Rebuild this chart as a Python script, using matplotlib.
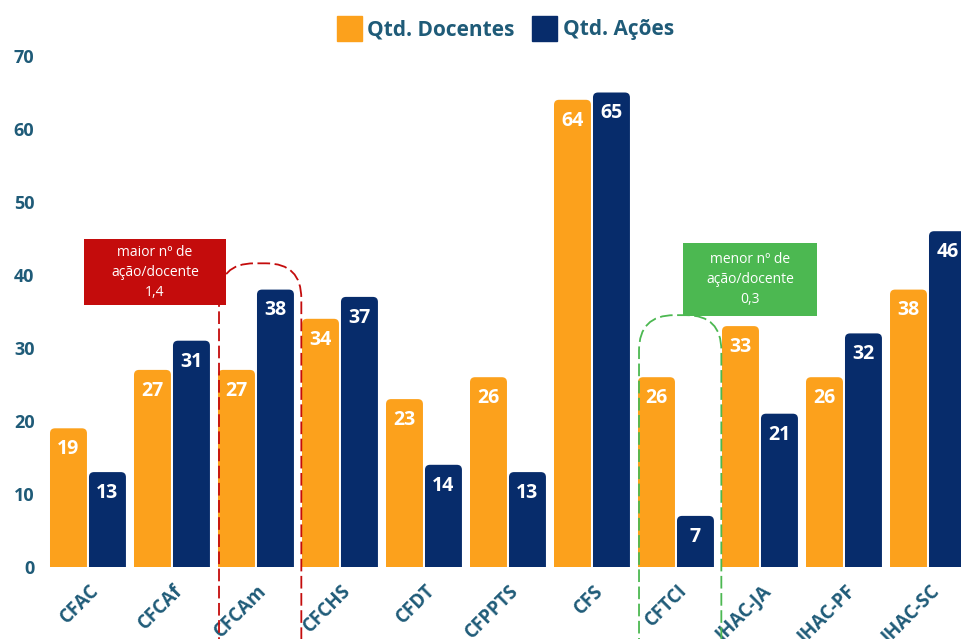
import matplotlib.pyplot as plt
import numpy as np
from matplotlib.patches import FancyBboxPatch
from matplotlib.lines import Line2D
import matplotlib.transforms as mtransforms

plt.rcParams['font.family'] = ['Open Sans', 'DejaVu Sans']

centros = ['CFAC', 'CFCAf', 'CFCAm', 'CFCHS', 'CFDT', 'CFPPTS', 'CFS', 'CFTCI',
           'IHAC-JA', 'IHAC-PF', 'IHAC-SC']
docentes = [19, 27, 27, 34, 23, 26, 64, 26, 33, 26, 38]
acoes = [13, 31, 38, 37, 14, 13, 65, 7, 21, 32, 46]

laranja = '#FCA11C'
azul = '#072C6B'
texto = '#1f5b78'
vermelho = '#C40C0C'
verde = '#4CB851'

fig = plt.figure(figsize=(9.62, 6.39), dpi=100)
ax = fig.add_axes([40 / 962, 72 / 639, 1 - 40 / 962, 511 / 639])

x = np.arange(len(centros))
w = 0.44
aspect = 84 / 7.3  # razão px por unidade x / px por unidade y

def arredondar(bars, cor):
    for b in bars:
        bx, by = b.get_xy()
        p = FancyBboxPatch((bx, -3), b.get_width(), b.get_height() + 3,
                           boxstyle='round,pad=0,rounding_size=0.06',
                           mutation_aspect=aspect, fc=cor, ec='none', zorder=2)
        ax.add_patch(p)
        b.set_visible(False)

b1 = ax.bar(x - 0.232, docentes, w, color=laranja)
b2 = ax.bar(x + 0.232, acoes, w, color=azul)
arredondar(b1, laranja)
arredondar(b2, azul)

for bars, vals in [(b1, docentes), (b2, acoes)]:
    for b, v in zip(bars, vals):
        ax.annotate(str(v), (b.get_x() + b.get_width() / 2, v), xytext=(0, -15),
                    textcoords='offset points', ha='center', va='center',
                    color='white', fontsize=14, fontweight='bold', zorder=5)

ax.set_xlim(-0.571, 10.405)
ax.set_ylim(0, 70)
ax.set_yticks(range(0, 71, 10))
for s in ax.spines.values():
    s.set_visible(False)
ax.tick_params(axis='both', length=0, labelsize=13, labelcolor=texto)
ax.tick_params(axis='y', pad=4)
ax.set_xticks(x)
ax.set_xticklabels(centros, rotation=45, ha='right', rotation_mode='anchor',
                   fontweight='bold', fontsize=13.5)
ax.tick_params(axis='x', pad=10)
off = mtransforms.ScaledTranslation(1 / 100, 0, fig.dpi_scale_trans)
for lab in ax.get_xticklabels():
    lab.set_transform(lab.get_transform() + off)
for lab in ax.get_yticklabels():
    lab.set_fontweight('bold')

# destaque maior / menor razão ações/docente
razao = np.array(acoes) / np.array(docentes)
imax = int(np.argmax(razao))
imin = int(np.argmin(razao))

for i, cor, topo, caixa, txt in [
        (imax, vermelho, 41.6, (imax - 2.048, 35.9, 1.69, 9.0), 'maior nº de'),
        (imin, verde, 34.5, (imin + 0.083, 34.4, 1.6, 10.0), 'menor nº de')]:
    contorno = FancyBboxPatch((i + 0.05 - 0.49, -20), 0.98, topo + 20,
                              boxstyle='round,pad=0,rounding_size=0.42',
                              mutation_aspect=aspect, fc='none', ec=cor, lw=1.3,
                              ls=(0, (7, 2.5)), zorder=6, clip_on=False)
    ax.add_patch(contorno)
    bx, by, bw, bh = caixa
    ax.add_patch(FancyBboxPatch((bx, by), bw, bh, boxstyle='square,pad=0',
                                fc=cor, ec='none', zorder=7, clip_on=False))
    valor = f'{razao[i]:.1f}'.replace('.', ',')
    ax.text(bx + bw / 2, by + bh / 2, f'{txt}\nação/docente\n{valor}',
            ha='center', va='center', color='white', fontsize=10,
            linespacing=1.45, zorder=8)

handles = [Line2D([], [], marker='s', ls='none', markersize=18, color=laranja),
           Line2D([], [], marker='s', ls='none', markersize=18, color=azul)]
leg = fig.legend(handles, ['Qtd. Docentes', 'Qtd. Ações'], loc='center',
                 bbox_to_anchor=(505 / 962, 1 - 30 / 639), ncol=2, frameon=False,
                 handletextpad=0.3, columnspacing=0.8, handlelength=1.2,
                 prop={'weight': 'bold', 'size': 15})
for t in leg.get_texts():
    t.set_color(texto)

fig.savefig('out.png', dpi=100)
